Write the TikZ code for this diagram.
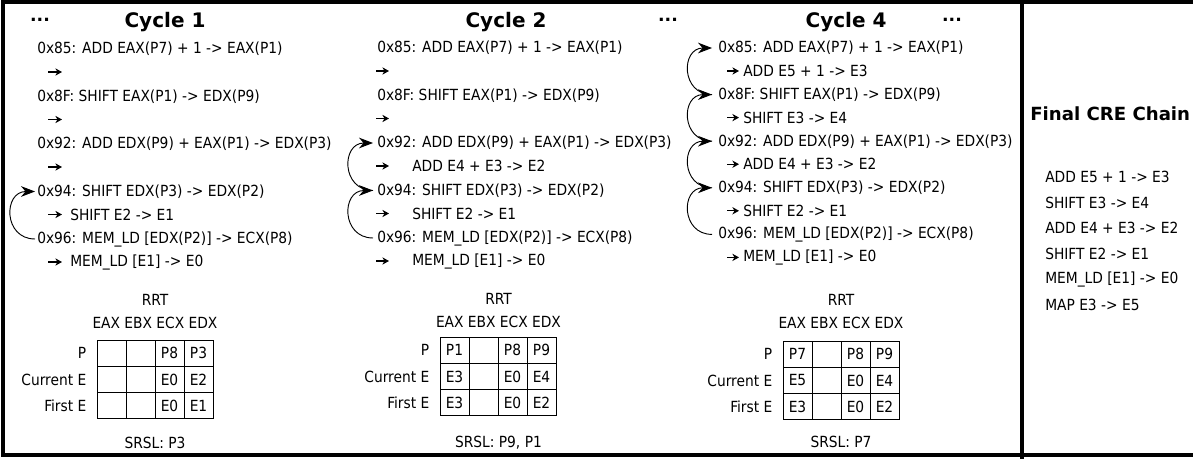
\documentclass[tikz,border=0pt]{standalone}
\usepackage{fontspec}
\setmainfont{DejaVu Sans Condensed}
\newfontfamily\headfont{DejaVu Sans}
\usetikzlibrary{arrows.meta,positioning}

\tikzset{
  instr/.style={anchor=west, inner sep=0pt, font=\fontsize{11.5}{13}\selectfont},
  lbl/.style={inner sep=0pt, font=\fontsize{11.5}{13}\selectfont},
  cyctitle/.style={anchor=base, inner sep=0pt, font=\headfont\fontsize{15}{18}\selectfont\bfseries},
  moredots/.style={inner sep=0pt, font=\headfont\fontsize{13}{15}\selectfont\bfseries},
  subarr/.style={-{Stealth[length=5pt,width=5.5pt]}, line width=0.8pt},
  deparr/.style={-{Stealth[length=10.5pt,width=8pt]}, line width=0.7pt, out=180, in=180, looseness=1.72},
  cell/.style={draw, line width=0.7pt, minimum width=21.75pt, minimum height=19.7pt, inner sep=0pt,
    font=\fontsize{11.5}{13}\selectfont},
}

\begin{document}
\begin{tikzpicture}[x=0.75pt, y=-0.75pt]
\useasboundingbox (0,0) rectangle (1193,459);
\clip (0,0) rectangle (1193,459);

% frame
\draw[line width=3pt] (3,1.75) rectangle (1240,455);
\draw[line width=3pt] (1022,0) -- (1022,459);

% Cycle 1
\node[moredots] (c1dots) at (40,20) {...};
\node[cyctitle] (c1title) at (165,27.3) {Cycle 1};
\foreach \hx/\txt [count=\i from 0] in {85/{ADD EAX(P7) + 1 -> EAX(P1)}, 8F/{SHIFT EAX(P1) -> EDX(P9)},
    92/{ADD EDX(P9) + EAX(P1) -> EDX(P3)}, 94/{SHIFT EDX(P3) -> EDX(P2)}, 96/{MEM\_LD [EDX(P2)] -> ECX(P8)}}
  \node[instr] (c1x\hx) at (37,{49+47.5*\i}) {0x\hx: \txt};
\foreach \i in {0,...,4} {
  \coordinate (c1a\i) at (48,{72+47.5*\i});
  \draw[subarr] (c1a\i) -- +(14,0);
}
\node[instr] (c1s3) at (70,{72+47.5*3}) {SHIFT E2 -> E1};
\node[instr] (c1s4) at (70,{72+47.5*4}) {MEM\_LD [E1] -> E0};
\draw[deparr] ([xshift=-1.5pt]c1x96.west) to ([xshift=-1.5pt]c1x94.west);

\node[lbl] (c1rrtname) at (155,300) {RRT};
\node[lbl] (c1regs) at (155,323) {EAX EBX ECX EDX};
\foreach \cells [count=\r from 0] in {{{},{},P8,P3},{{},{},E0,E2},{{},{},E0,E1}}
  \foreach \c [count=\k from 0] in \cells
    \node[cell] (c1t\r\k) at ({111.5+29*\k},{353.2+26.3*\r}) {\c};
\foreach \lab [count=\r from 0] in {P,Current E,First E}
  \node[lbl, anchor=east] (c1l\r) at ([xshift=-7.5pt]c1t\r0.west) {\lab};
\node[lbl] (c1srsl) at (155,443) {SRSL: P3};

% Cycle 2
\node[cyctitle] (c2title) at (506,27.3) {Cycle 2};
\node[moredots] (c2dots) at (668,20) {...};
\foreach \hx/\txt [count=\i from 0] in {85/{ADD EAX(P7) + 1 -> EAX(P1)}, 8F/{SHIFT EAX(P1) -> EDX(P9)},
    92/{ADD EDX(P9) + EAX(P1) -> EDX(P3)}, 94/{SHIFT EDX(P3) -> EDX(P2)}, 96/{MEM\_LD [EDX(P2)] -> ECX(P8)}}
  \node[instr] (c2x\hx) at (377,{48+47.5*\i}) {0x\hx: \txt};
\foreach \i in {0,...,4} {
  \coordinate (c2a\i) at (376,{71+47.5*\i});
  \draw[subarr] (c2a\i) -- +(13,0);
}
\node[instr] (c2s2) at (412,{71+47.5*2}) {ADD E4 + E3 -> E2};
\node[instr] (c2s3) at (412,{71+47.5*3}) {SHIFT E2 -> E1};
\node[instr] (c2s4) at (412,{71+47.5*4}) {MEM\_LD [E1] -> E0};
\draw[deparr] ([xshift=-3pt]c2x96.west) to ([xshift=-3pt]c2x94.west);
\draw[deparr] ([xshift=-3pt]c2x94.west) to ([xshift=-3pt]c2x92.west);

\node[lbl] (c2rrtname) at (498.5,299) {RRT};
\node[lbl] (c2regs) at (498.5,322) {EAX EBX ECX EDX};
\foreach \cells [count=\r from 0] in {{P1,{},P8,P9},{E3,{},E0,E4},{E3,{},E0,E2}}
  \foreach \c [count=\k from 0] in \cells
    \node[cell] (c2t\r\k) at ({454.5+29*\k},{350.2+26.3*\r}) {\c};
\foreach \lab [count=\r from 0] in {P,Current E,First E}
  \node[lbl, anchor=east] (c2l\r) at ([xshift=-7.5pt]c2t\r0.west) {\lab};
\node[lbl] (c2srsl) at (498.5,443) {SRSL: P9, P1};

% Cycle 4
\node[cyctitle] (c4title) at (846,27.3) {Cycle 4};
\node[moredots] (c4dots) at (952,20) {...};
\foreach \hx/\txt [count=\i from 0] in {85/{ADD EAX(P7) + 1 -> EAX(P1)}, 8F/{SHIFT EAX(P1) -> EDX(P9)},
    92/{ADD EDX(P9) + EAX(P1) -> EDX(P3)}, 94/{SHIFT EDX(P3) -> EDX(P2)}, 96/{MEM\_LD [EDX(P2)] -> ECX(P8)}}
  \node[instr] (c4x\hx) at (718,{48+46.6*\i}) {0x\hx: \txt};
\foreach \txt [count=\i from 0] in {{ADD E5 + 1 -> E3}, {SHIFT E3 -> E4}, {ADD E4 + E3 -> E2},
    {SHIFT E2 -> E1}, {MEM\_LD [E1] -> E0}} {
  \coordinate (c4a\i) at (727,{71+46.6*\i});
  \draw[subarr] (c4a\i) -- +(12,0);
  \node[instr] (c4s\i) at (743,{71+46.6*\i}) {\txt};
}
\draw[deparr] ([xshift=-4.5pt]c4x96.west) to ([xshift=-4.5pt]c4x94.west);
\draw[deparr] ([xshift=-4.5pt]c4x94.west) to ([xshift=-4.5pt]c4x92.west);
\draw[deparr] ([xshift=-4.5pt]c4x92.west) to ([xshift=-4.5pt]c4x8F.west);
\draw[deparr] ([xshift=-4.5pt]c4x8F.west) to ([xshift=-4.5pt]c4x85.west);

\node[lbl] (c4rrtname) at (841,300) {RRT};
\node[lbl] (c4regs) at (841,323) {EAX EBX ECX EDX};
\foreach \cells [count=\r from 0] in {{P7,{},P8,P9},{E5,{},E0,E4},{E3,{},E0,E2}}
  \foreach \c [count=\k from 0] in \cells
    \node[cell] (c4t\r\k) at ({797.5+29*\k},{354.2+26.3*\r}) {\c};
\foreach \lab [count=\r from 0] in {P,Current E,First E}
  \node[lbl, anchor=east] (c4l\r) at ([xshift=-7.5pt]c4t\r0.west) {\lab};
\node[lbl] (c4srsl) at (841,442) {SRSL: P7};

% final chain
\node[instr, font=\headfont\fontsize{13.6}{16}\selectfont\bfseries] (fctitle) at (1030,114) {Final CRE Chain};
\foreach \txt [count=\i from 0] in {{ADD E5 + 1 -> E3}, {SHIFT E3 -> E4}, {ADD E4 + E3 -> E2},
    {SHIFT E2 -> E1}, {MEM\_LD [E1] -> E0}, {MAP E3 -> E5}}
  \node[instr] (fc\i) at (1045,{177+25.5*\i}) {\txt};

\end{tikzpicture}
\end{document}
